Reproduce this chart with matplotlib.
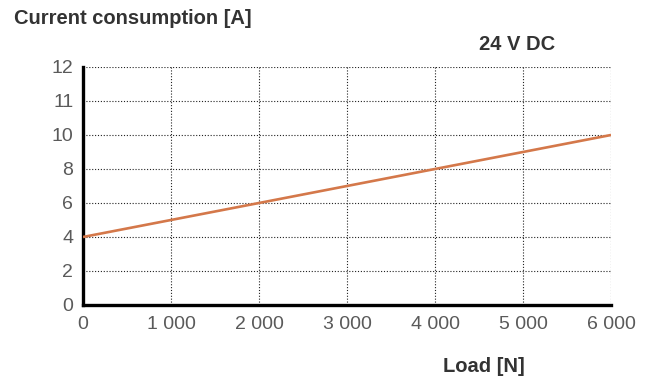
import numpy as np
import matplotlib
matplotlib.use("Agg")
import matplotlib.pyplot as plt

# Data
load = [0, 6000]          # N
current = [4, 10]         # A
x_ticks = [0, 1000, 2000, 3000, 4000, 5000, 6000]
x_labels = ["0", "1 000", "2 000", "3 000", "4 000", "5 000", "6 000"]
y_ticks = [0, 2, 4, 6, 8, 10, 11, 12]
y_pos = np.arange(len(y_ticks))

plt.rcParams['font.family'] = ['Liberation Sans', 'DejaVu Sans']

fig = plt.figure(figsize=(6.51, 3.80), dpi=100)
ax = fig.add_axes([0.1275, 0.1974, 0.8111, 0.6263])

# uneven y-axis: ticks equally spaced
def fwd(y):
    return np.interp(y, y_ticks, y_pos)

def inv(p):
    return np.interp(p, y_pos, y_ticks)

ax.set_yscale('function', functions=(fwd, inv))
ax.set_ylim(0, 12)
ax.set_xlim(0, 6000)

ax.plot(load, current, color='#D4784A', lw=1.9, solid_capstyle='butt', zorder=3)

ax.set_xticks(x_ticks)
ax.set_xticklabels(x_labels)
ax.set_yticks(y_ticks)
ax.set_yticklabels([str(v) for v in y_ticks])
ax.yaxis.set_minor_locator(matplotlib.ticker.NullLocator())
ax.tick_params(length=0, labelsize=14, labelcolor='#5a5a5a')
ax.tick_params(axis='x', pad=8)
ax.tick_params(axis='y', pad=7)

ax.grid(True, linestyle=(0, (1, 1.6)), color='#222222', lw=0.8)
for s in ['top', 'right']:
    ax.spines[s].set_visible(False)
for s in ['left', 'bottom']:
    ax.spines[s].set_linewidth(2.4)
    ax.spines[s].set_color('black')
ax.set_axisbelow(True)

fig.text(14 / 651, 1 - 18 / 380, "Current consumption [A]", fontsize=14.5,
         fontweight='bold', color='#333333', va='center', ha='left')
fig.text(517 / 651, 1 - 45 / 380, "24 V DC", fontsize=14.5,
         fontweight='bold', color='#333333', va='center', ha='center')
fig.text(484 / 651, 1 - 366 / 380, "Load [N]", fontsize=14.5,
         fontweight='bold', color='#333333', va='center', ha='center')

fig.savefig("out.png", dpi=100)
